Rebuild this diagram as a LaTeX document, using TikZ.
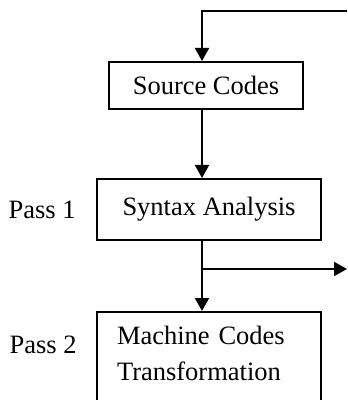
\documentclass[tikz,border=0pt]{standalone}
\usepackage{fontspec}
\setmainfont{Liberation Serif}
\usetikzlibrary{
    arrows.meta,
    positioning
}

\begin{document}
\begin{tikzpicture}[
        x=0.5pt, y=-0.5pt,
        node distance=34pt,
        box/.style={draw, line width=1pt, inner sep=0pt, align=center, font=\fontsize{13.25}{18}\selectfont},
        pass/.style={inner sep=0pt, font=\fontsize{13.25}{18}\selectfont},
        arrow/.style={-{Triangle[length=6.5pt, width=7pt]}, line width=1pt}
    ]
        \useasboundingbox (0,0) rectangle (347,400);

        % Source
        \node[box, minimum width=97pt, minimum height=23.5pt] (src) at (206,85.5) {Source Codes};

        % Pass 1
        \node[box, minimum width=112pt, minimum height=30.5pt, below=34pt of src, xshift=1.5pt] (syn) {Syntax Analysis};
        \node[pass, left=10pt of syn] (pass1) {Pass 1};

        % Pass 2 (box runs off the page)
        \node[box, align=left, text width=92pt, inner xsep=10pt, inner ysep=4pt, text height=12.3pt, text depth=40pt, below=35pt of syn] (mct) {Machine Codes\\Transformation};
        \node[pass, anchor=base east] (pass2) at (77,353) {Pass 2};

        % Connectors
        \coordinate (spine) at (202,0);
        \coordinate (loopin) at (347,11);
        \coordinate (out) at (347,269);
        \coordinate (fork) at (spine |- out);
        \draw[arrow] (loopin) -| (src.north -| spine);
        \draw[arrow] (src.south -| spine) -- (syn.north -| spine);
        \draw[arrow] (syn.south -| spine) -- (mct.north -| spine);
        \draw[arrow] (fork) -- (out);

\end{tikzpicture}
\end{document}
